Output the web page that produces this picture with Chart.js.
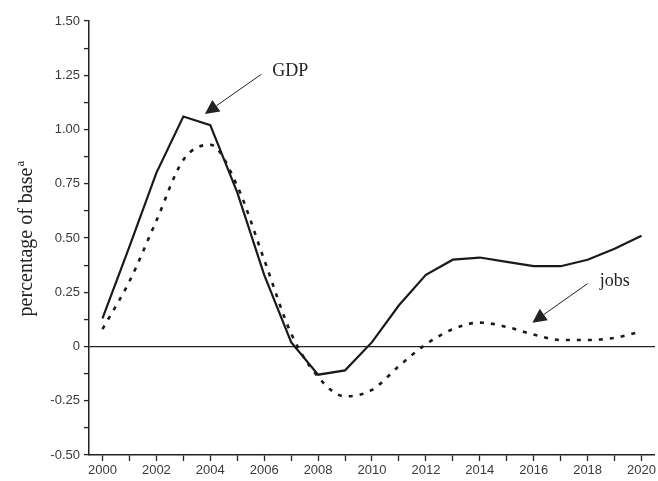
<!DOCTYPE html>
<html>
<head>
<meta charset="utf-8">
<script src="https://cdn.jsdelivr.net/npm/chart.js@4"></script>
<style>
  html, body { margin: 0; padding: 0; background: #fff; }
  #wrap { width: 658px; height: 481px; position: relative; }
</style>
</head>
<body>
<div id="wrap"><canvas id="chart"></canvas></div>
<script>
// years on the x axis
var years = [2000, 2001, 2002, 2003, 2004, 2005, 2006, 2007, 2008, 2009, 2010,
  2011, 2012, 2013, 2014, 2015, 2016, 2017, 2018, 2019, 2020];

// percentage of base
var gdp = [0.13, 0.46, 0.80, 1.06, 1.02, 0.71, 0.33, 0.02, -0.13, -0.11, 0.02,
  0.19, 0.33, 0.40, 0.41, 0.39, 0.37, 0.37, 0.40, 0.45, 0.51];
var jobs = [0.08, 0.30, 0.58, 0.86, 0.93, 0.74, 0.40, 0.06, -0.14, -0.23, -0.20,
  -0.09, 0.01, 0.08, 0.11, 0.09, 0.055, 0.03, 0.03, 0.04, 0.07];

var yMin = -0.5, yMax = 1.5, yStep = 0.125;
var yLabelStep = 0.25;

// annotation text + arrow (tail -> tip), in data units
var notes = [
  { text: 'GDP', at: [2006.3, 1.27], tail: [2005.9, 1.255], tip: [2003.8, 1.072] },
  { text: 'jobs', at: [2018.45, 0.30], tail: [2018.0, 0.29], tip: [2015.95, 0.11] }
];

var serif = '"Liberation Serif", "Times New Roman", serif';
var sans = '"Liberation Sans", Arial, sans-serif';

var extras = {
  id: 'extras',
  afterDraw: function (chart) {
    var ctx = chart.ctx;
    var xs = chart.scales.x, ys = chart.scales.y;
    ctx.save();
    ctx.fillStyle = '#222';
    ctx.strokeStyle = '#222';
    notes.forEach(function (n) {
      var x0 = xs.getPixelForValue(n.tail[0] - 2000);
      var y0 = ys.getPixelForValue(n.tail[1]);
      var x1 = xs.getPixelForValue(n.tip[0] - 2000);
      var y1 = ys.getPixelForValue(n.tip[1]);
      var ang = Math.atan2(y1 - y0, x1 - x0);
      var hl = 14, hw = 7;
      ctx.lineWidth = 1;
      ctx.beginPath();
      ctx.moveTo(x0, y0);
      ctx.lineTo(x1 - hl * Math.cos(ang), y1 - hl * Math.sin(ang));
      ctx.stroke();
      ctx.beginPath();
      ctx.moveTo(x1, y1);
      ctx.lineTo(x1 - hl * Math.cos(ang) + hw * Math.sin(ang), y1 - hl * Math.sin(ang) - hw * Math.cos(ang));
      ctx.lineTo(x1 - hl * Math.cos(ang) - hw * Math.sin(ang), y1 - hl * Math.sin(ang) + hw * Math.cos(ang));
      ctx.closePath();
      ctx.fill();
      ctx.font = '18px ' + serif;
      ctx.textAlign = 'left';
      ctx.textBaseline = 'middle';
      ctx.fillText(n.text, xs.getPixelForValue(n.at[0] - 2000), ys.getPixelForValue(n.at[1]));
    });

    // y axis title with superscript a
    ctx.translate(32, 242);
    ctx.rotate(-Math.PI / 2);
    ctx.font = '20px ' + serif;
    ctx.textBaseline = 'alphabetic';
    var main = 'percentage of base';
    var w = ctx.measureText(main).width;
    ctx.textAlign = 'left';
    ctx.fillText(main, -w / 2, 0);
    ctx.font = '13px ' + serif;
    ctx.fillText('a', w / 2 + 1, -8);
    ctx.restore();
  }
};

new Chart(document.getElementById('chart'), {
  type: 'line',
  data: {
    labels: years,
    datasets: [
      {
        label: 'GDP',
        data: gdp,
        borderColor: '#1a1a1a',
        borderWidth: 2.2,
        pointRadius: 0,
        tension: 0,
        fill: false
      },
      {
        label: 'jobs',
        data: jobs,
        borderColor: '#1a1a1a',
        borderWidth: 2.6,
        borderDash: [4, 7],
        pointRadius: 0,
        tension: 0.4,
        cubicInterpolationMode: 'monotone',
        fill: false
      }
    ]
  },
  options: {
    responsive: true,
    maintainAspectRatio: false,
    animation: false,
    layout: { padding: { top: 21, right: 1, left: 0, bottom: 0 } },
    plugins: {
      legend: { display: false },
      tooltip: { enabled: false }
    },
    scales: {
      x: {
        type: 'category',
        offset: true,
        grid: {
          offset: false,
          drawOnChartArea: false,
          drawTicks: true,
          tickLength: 6,
          tickColor: '#222',
          tickWidth: 1.3
        },
        border: { display: true, color: '#222', width: 1.5 },
        ticks: {
          autoSkip: false,
          maxRotation: 0,
          padding: 2,
          color: '#3a3a3a',
          font: { family: sans, size: 13 },
          callback: function (v, i) {
            return years[i] % 2 === 0 ? String(years[i]) : '';
          }
        },
        afterFit: function (scale) { scale.height = 26; }
      },
      y: {
        min: yMin,
        max: yMax,
        grid: {
          drawOnChartArea: true,
          drawTicks: true,
          tickLength: 5,
          tickColor: '#222',
          tickWidth: 1.3,
          lineWidth: 1.2,
          color: function (c) {
            return c.tick && c.tick.value === 0 ? '#222' : 'rgba(0,0,0,0)';
          }
        },
        border: { display: true, color: '#222', width: 1.5 },
        ticks: {
          stepSize: yStep,
          padding: 4,
          color: '#3a3a3a',
          font: { family: sans, size: 13 },
          callback: function (v) {
            if (Math.abs(v / yLabelStep - Math.round(v / yLabelStep)) > 1e-6) return '';
            return v === 0 ? '0' : v.toFixed(2);
          }
        },
        afterFit: function (scale) { scale.width = 89; }
      }
    }
  },
  plugins: [extras]
});
</script>
</body>
</html>
